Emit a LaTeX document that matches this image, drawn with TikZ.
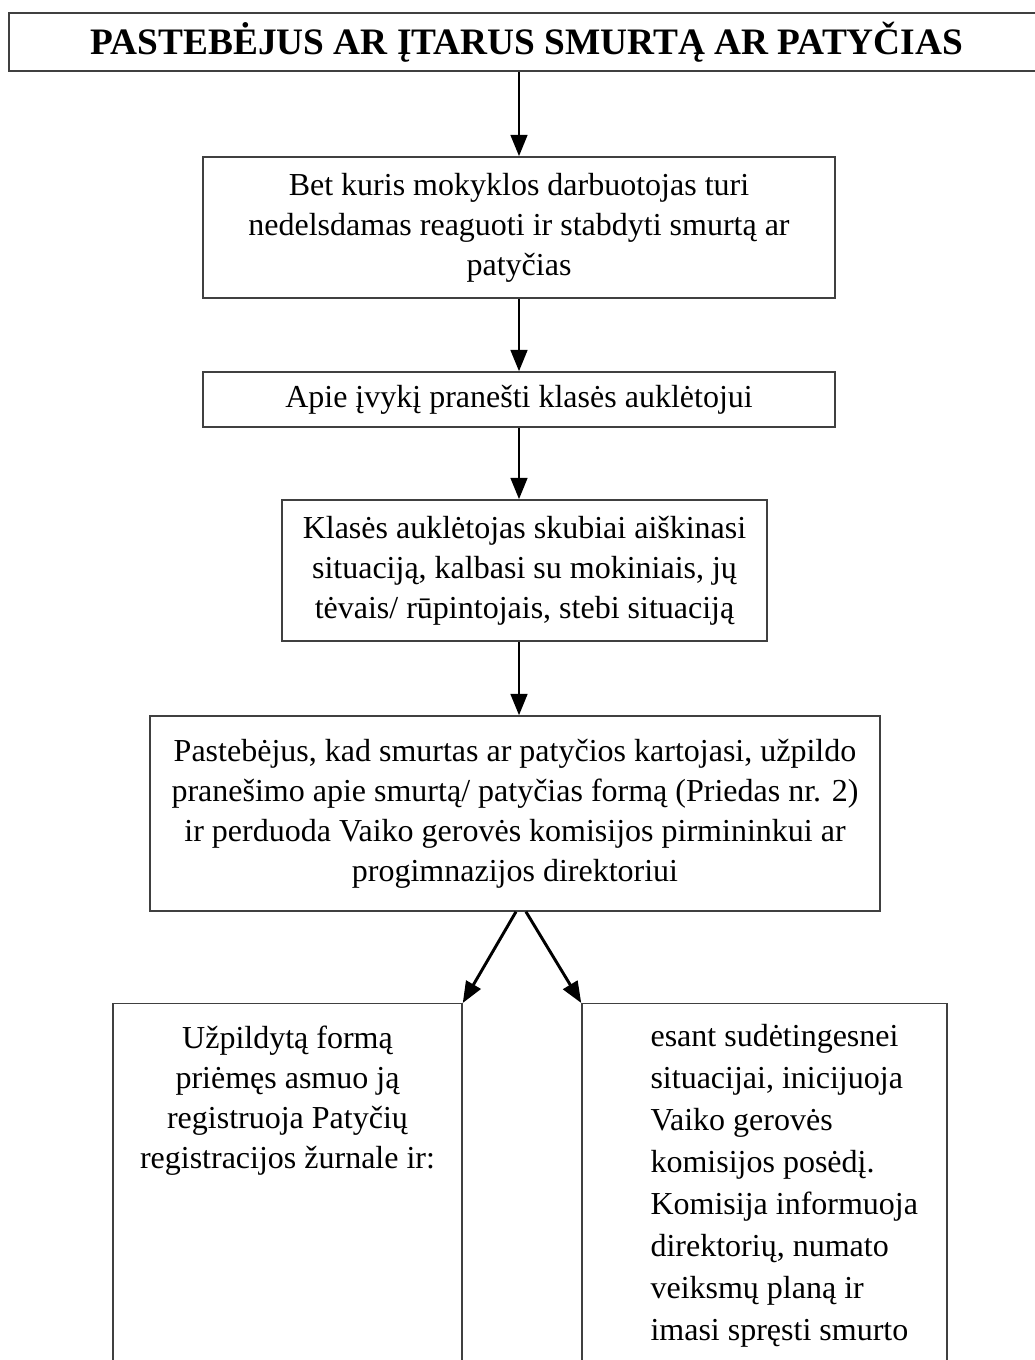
\documentclass[tikz,border=0pt]{standalone}
\usepackage{fontspec}
\setmainfont{Liberation Serif}[BoldFont={Liberation Serif Bold}]
\usetikzlibrary{arrows.meta}
\begin{document}
\begin{tikzpicture}[x=0.375pt,y=-0.375pt,
  boxst/.style={draw=black!75, line width=0.55pt, rectangle, inner sep=0pt, align=center,
    font=\fontsize{12pt}{15pt}\selectfont},
  txtst/.style={inner sep=0pt, font=\fontsize{12pt}{15pt}\selectfont},
  arr/.style={line width=1.1pt, -{Triangle[length=8pt,width=6.2pt]}, shorten >=0pt}]
\clip (0,0) rectangle (1035,1360);
\fill[white] (0,0) rectangle (1035,1360);

\node[boxst, minimum width=388.5pt, minimum height=21.75pt,
  font=\fontsize{14pt}{17pt}\selectfont\bfseries] (t) at (527,42)
  {PASTEBĖJUS AR ĮTARUS SMURTĄ AR PATYČIAS};

\node[boxst, minimum width=237pt, minimum height=52.9pt] (b2) at (519,227.5)
  {Bet kuris mokyklos darbuotojas turi\\nedelsdamas reaguoti ir stabdyti smurtą ar\\patyčias};

\node[boxst, minimum width=237pt, minimum height=20.6pt] (b3) at (519,399.5)
  {Apie įvykį pranešti klasės auklėtojui};

\node[boxst, minimum width=181.9pt, minimum height=52.9pt] (b4) at (524.5,570.5)
  {\raisebox{-1.5pt}{\parbox{181pt}{\centering Klasės auklėtojas skubiai aiškinasi\\situaciją, kalbasi su mokiniais, jų\\tėvais/ rūpintojais, stebi situaciją}}};

\node[boxst, minimum width=273.75pt, minimum height=73.1pt] (b5) at (515,813.5)
  {Pastebėjus, kad smurtas ar patyčios kartojasi, užpildo\\pranešimo apie smurtą/ patyčias formą (Priedas nr. 2)\\ir perduoda Vaiko gerovės komisijos pirmininkui ar\\progimnazijos direktoriui};

\node[boxst, anchor=north, minimum width=130.9pt, minimum height=150pt] (b6) at (287.5,1003) {};
\node[boxst, anchor=north, minimum width=136.9pt, minimum height=150pt] (b7) at (764.5,1003) {};

\node[txtst, anchor=north, align=center] (b6t) at (287.5,1025)
  {Užpildytą formą\\priėmęs asmuo ją\\registruoja Patyčių\\registracijos žurnale ir:};
\node[txtst, anchor=north west, align=left, font=\fontsize{12pt}{15.75pt}\selectfont] (b7t) at (650,1024)
  {esant sudėtingesnei\\situacijai, inicijuoja\\Vaiko gerovės\\komisijos posėdį.\\Komisija informuoja\\direktorių, numato\\veiksmų planą ir\\imasi spręsti smurto};

\coordinate (s5l) at ([xshift=0.375pt]b5.south);
\coordinate (s5r) at ([xshift=4.1pt]b5.south);

\draw[arr] (t.south -| b2.north) -- (b2.north);
\draw[arr] (b2.south) -- (b3.north);
\draw[arr] (b3.south) -- (b3.south |- b4.north);
\draw[arr] (b3.south |- b4.south) -- (b3.south |- b5.north);
\draw[arr] (s5l) -- (b6.north east);
\draw[arr] (s5r) -- (b7.north west);
\end{tikzpicture}
\end{document}
